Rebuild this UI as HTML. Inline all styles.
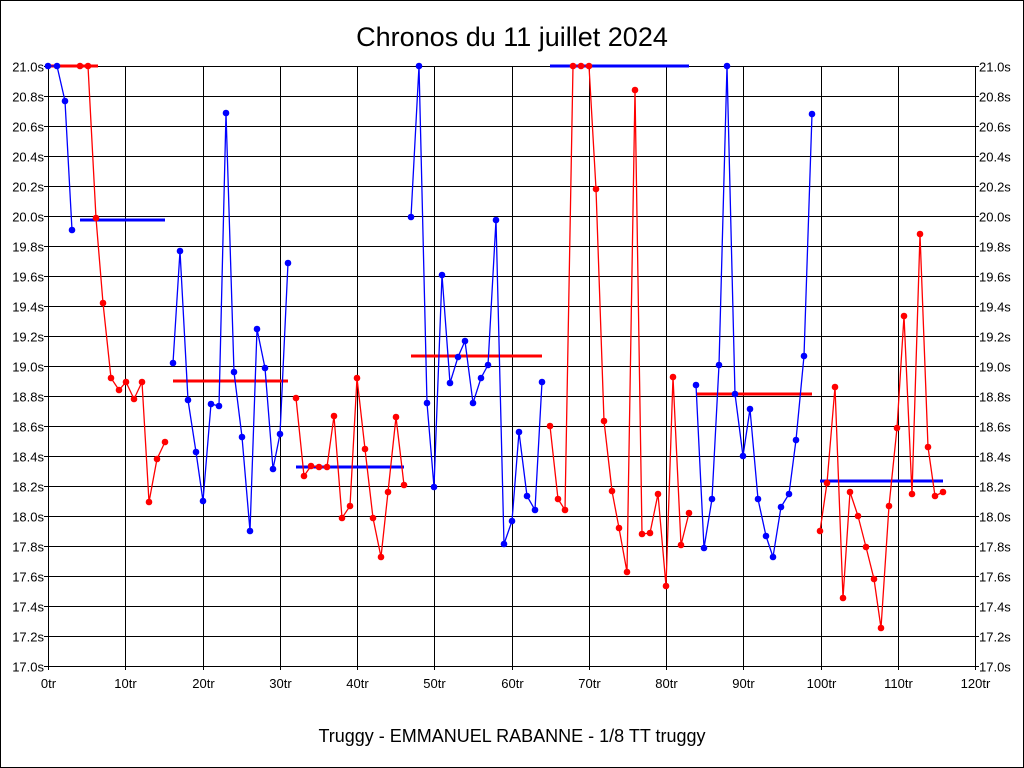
<!DOCTYPE html>
<html><head><meta charset="utf-8"><style>
html,body{margin:0;padding:0;background:#fff}
svg{display:block}
text{font-family:"Liberation Sans",sans-serif}
</style></head><body>
<svg id="s" width="1024" height="768" xmlns="http://www.w3.org/2000/svg" shape-rendering="crispEdges">
<rect x="0.5" y="0.5" width="1023" height="767" fill="#fff" stroke="#000"/>
<text x="512" y="46" font-size="27" text-anchor="middle">Chronos du 11 juillet 2024</text>
<text x="512" y="742" font-size="18" text-anchor="middle">Truggy - EMMANUEL RABANNE - 1/8 TT truggy</text>
<g id="grid"></g>
<g id="data" shape-rendering="auto"></g>
</svg>
<script>
const NS="http://www.w3.org/2000/svg";
const g=document.getElementById('grid'),d=document.getElementById('data');
function el(p,t,a,txt){const e=document.createElementNS(NS,t);for(const k in a)e.setAttribute(k,a[k]);if(txt!==undefined)e.textContent=txt;p.appendChild(e);return e;}
const X0=48,X1=975,Y0=66,Y1=666;
for(let i=0;i<=20;i++){const y=Y0+i*30+0.5;el(g,'line',{x1:X0-4,x2:X1+4,y1:y,y2:y,stroke:'#000','stroke-width':1});
const v=(21-i*0.2).toFixed(1)+'s';
el(g,'text',{x:X0-4,y:y+5,'font-size':13,'text-anchor':'end'},v);
el(g,'text',{x:X1+4,y:y+5,'font-size':13},v);}
for(let i=0;i<=12;i++){const x=Math.round(X0+(X1-X0)*i/12)+0.5;el(g,'line',{x1:x,x2:x,y1:Y0,y2:Y1+4,stroke:'#000','stroke-width':1});
el(g,'text',{x:x,y:688,'font-size':13,'text-anchor':'middle'},(i*10)+'tr');}
function ser(p,col){el(d,'polyline',{points:p.map(q=>q.join(',')).join(' '),fill:'none',stroke:col,'stroke-width':1.3});for(const q of p)el(d,'circle',{cx:q[0],cy:q[1],r:3.3,fill:col});}
function avg(x1,x2,y,col){el(d,'line',{x1:x1,x2:x2,y1:y,y2:y,stroke:col,'stroke-width':3});}
const B='#0000ff',R='#ff0000';
avg(80,165,220,B);avg(173,288,381,R);avg(296,404,467,B);avg(411,542,356,R);avg(550,689,66,B);avg(696,812,394,R);avg(820,943,481,B);
avg(48,98,66,R);
ser([[48,66],[57,66],[65,101],[72,230]],B);
ser([[80,66],[88,66],[96,218],[103,303],[111,378],[119,390],[126,382],[134,399],[142,382],[149,502],[157,459],[165,442]],R);
ser([[173,363],[180,251],[188,400],[196,452],[203,501],[211,404],[219,406],[226,113],[234,372],[242,437],[250,531],[257,329],[265,368],[273,469],[280,434],[288,263]],B);
ser([[296,398],[304,476],[311,466],[319,467],[327,467],[334,416],[342,518],[350,506],[357,378],[365,449],[373,518],[381,557],[388,492],[396,417],[404,485]],R);
ser([[411,217],[419,66],[427,403],[434,487],[442,275],[450,383],[458,357],[465,341],[473,403],[481,378],[488,365],[496,220],[504,544],[512,521],[519,432],[527,496],[535,510],[542,382]],B);
ser([[550,426],[558,499],[565,510],[573,66],[581,66],[589,66],[596,189],[604,421],[612,491],[619,528],[627,572],[635,90],[642,534],[650,533],[658,494],[666,586],[673,377],[681,545],[689,513]],R);
ser([[696,385],[704,548],[712,499],[719,365],[727,66],[735,394],[743,456],[750,409],[758,499],[766,536],[773,557],[781,507],[789,494],[796,440],[804,356],[812,114]],B);
ser([[820,531],[827,483],[835,387],[843,598],[850,492],[858,516],[866,547],[874,579],[881,628],[889,506],[897,428],[904,316],[912,494],[920,234],[928,447],[935,496],[943,492]],R);
</script>
</body></html>
